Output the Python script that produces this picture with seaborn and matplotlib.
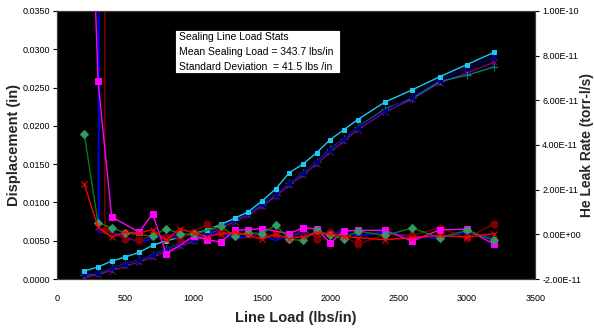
import matplotlib
matplotlib.use("Agg")
import matplotlib.pyplot as plt
import seaborn as sns
from matplotlib import font_manager
from matplotlib.patches import Rectangle
from matplotlib.ticker import FuncFormatter, MultipleLocator

# line load grid (lbs/in) shared by the displacement curves
load = [200, 300, 400, 500, 600, 700, 800, 900, 1000, 1100, 1200, 1300, 1400,
        1500, 1600, 1700, 1800, 1900, 2000, 2100, 2200, 2400, 2600, 2800, 3000, 3200]

# displacement (in)
disp_cyan = [0.00104, 0.00157, 0.00235, 0.00287, 0.00348, 0.00440, 0.00500, 0.00545,
             0.00595, 0.00640, 0.00714, 0.00793, 0.00879, 0.01019, 0.01175, 0.01388,
             0.01500, 0.01650, 0.01820, 0.01950, 0.02080, 0.02310, 0.02470, 0.02640,
             0.02800, 0.02960]
disp_navy = [0.00060, 0.00080, 0.00140, 0.00195, 0.00250, 0.00310, 0.00385, 0.00455,
             0.00510, 0.00600, 0.00685, 0.00770, 0.00860, 0.00975, 0.01100, 0.01250,
             0.01390, 0.01530, 0.01690, 0.01830, 0.01975, 0.02200, 0.02380, 0.02600,
             0.02750, 0.02900]
disp_teal = [0.00052, 0.00074, 0.00140, 0.00200, 0.00250, 0.00310, 0.00390, 0.00460,
             0.00510, 0.00600, 0.00690, 0.00770, 0.00860, 0.00970, 0.01100, 0.01250,
             0.01390, 0.01530, 0.01700, 0.01830, 0.01980, 0.02220, 0.02360, 0.02580,
             0.02660, 0.02770]
disp_purple = [0.00017, 0.00060, 0.00110, 0.00165, 0.00225, 0.00285, 0.00360, 0.00430,
               0.00490, 0.00575, 0.00665, 0.00750, 0.00840, 0.00950, 0.01080, 0.01225,
               0.01360, 0.01500, 0.01660, 0.01800, 0.01950, 0.02180, 0.02350, 0.02560,
               0.02690, 0.02830]

# He leak rate (torr-l/s), each test with its own load readings
leak_unit = 1e-11
x_magenta = [200, 300, 400, 600, 700, 800, 1000, 1100, 1200, 1300, 1400, 1500, 1700,
             1800, 1900, 2000, 2100, 2200, 2400, 2600, 2800, 3000, 3200]
leak_magenta = [25.0, 6.87, 0.78, 0.10, 0.92, -0.89, -0.08, -0.24, -0.35, 0.18, 0.21,
                0.26, 0.03, 0.30, 0.24, -0.39, 0.15, 0.18, 0.18, -0.30, 0.20, 0.23, -0.45]
x_blue = [305, 305, 400, 500, 600, 700, 800, 900, 1000, 1100, 1200, 1300, 1400, 1500,
          1600, 1700, 1800, 1900, 2000, 2100, 2200, 2400, 2600, 2800, 3000, 3200]
leak_blue = [30.0, 0.10, 0.10, -0.10, -0.35, -0.20, 0.00, -0.10, 0.05, -0.05, 0.10,
             -0.20, -0.10, 0.00, -0.27, -0.05, 0.05, 0.00, 0.10, 0.05, -0.05, 0.10,
             -0.10, -0.17, 0.10, -0.17]
x_darkred = [350, 350, 500, 600, 700, 800, 900, 1000, 1100, 1200, 1300, 1400, 1500,
             1600, 1700, 1800, 1900, 2000, 2100, 2200, 2400, 2600, 2800, 3000, 3200]
leak_darkred = [30.0, 0.21, -0.19, -0.27, -0.05, -0.10, -0.19, 0.10, 0.45, 0.10, -0.05,
                0.05, -0.05, 0.00, -0.23, 0.23, -0.19, 0.10, -0.05, -0.45, 0.00, -0.05,
                0.30, -0.17, 0.48]
x_green = [200, 300, 400, 500, 700, 800, 900, 1000, 1200, 1300, 1400, 1500, 1600, 1700,
           1800, 1900, 2000, 2100, 2200, 2400, 2600, 2800, 3000, 3200]
leak_green = [4.47, 0.51, 0.30, 0.06, -0.08, 0.26, 0.03, 0.00, 0.36, -0.08, 0.08, 0.03,
              0.41, -0.23, -0.27, 0.18, -0.05, -0.19, 0.15, -0.05, 0.28, -0.15, 0.18, -0.27]
x_red = load
leak_red = [2.24, 0.33, -0.12, 0.10, 0.06, 0.21, -0.27, 0.26, 0.05, -0.10, 0.03, 0.10,
            -0.05, -0.21, 0.00, -0.19, -0.10, 0.05, 0.03, -0.10, -0.15, -0.24, -0.15,
            -0.05, -0.12, 0.03]

stats_lines = ["Sealing Line Load Stats",
               "Mean Sealing Load = 343.7 lbs/in",
               "Standard Deviation  = 41.5 lbs /in"]

sns.set_style("white")
installed = {f.name for f in font_manager.fontManager.ttflist}
narrow = [f for f in ["Liberation Sans Narrow", "Liberation Sans", "DejaVu Sans"] if f in installed]
plt.rcParams["font.family"] = narrow

fig = plt.figure(figsize=(5.94, 3.31), dpi=100)
ax = fig.add_axes([0.096, 0.157, 0.805, 0.81])
ax.set_facecolor("black")
ax2 = ax.twinx()


def draw(axis, xs, ys, color, marker, ms, mfc=None, lw=1.0):
    sns.lineplot(x=xs, y=ys, ax=axis, color=color, marker=marker, markersize=ms,
                 markerfacecolor=mfc or color, markeredgecolor=mfc or color,
                 linewidth=lw, sort=False, estimator=None, legend=False)


# displacement curves
draw(ax, load, disp_purple, "#800080", "x", 5)
draw(ax, load, disp_teal, "#008080", "+", 6)
draw(ax, load, disp_navy, "#000080", "o", 3.5)
draw(ax, load, disp_cyan, "#1EC8F0", "s", 3)

# leak rate curves
draw(ax2, x_blue, [v * leak_unit for v in leak_blue], "#0000FF", None, 0, lw=1.3)
draw(ax2, x_darkred, [v * leak_unit for v in leak_darkred], "#800000", "o", 5)
draw(ax2, x_magenta, [v * leak_unit for v in leak_magenta], "#FF00FF", "s", 5)
draw(ax2, x_green, [v * leak_unit for v in leak_green], "#008000", "D", 4.5, mfc="#339966")
draw(ax2, x_red, [v * leak_unit for v in leak_red], "#FF0000", "x", 5)

ax.set_xlim(0, 3500)
ax.set_ylim(0, 0.035)
ax2.set_ylim(-2e-11, 1e-10)
ax.xaxis.set_major_locator(MultipleLocator(500))
ax.yaxis.set_major_locator(MultipleLocator(0.005))
ax2.yaxis.set_major_locator(MultipleLocator(2e-11))
ax.yaxis.set_major_formatter(FuncFormatter(lambda v, p: f"{v:.4f}"))
ax2.yaxis.set_major_formatter(FuncFormatter(lambda v, p: f"{v:.2E}"))

for a in (ax, ax2):
    a.tick_params(direction="out", length=3, width=0.8, labelsize=6.5, colors="black", pad=2)
    for s in a.spines.values():
        s.set_color("#404040")
        s.set_linewidth(0.8)
    a.grid(False)
ax.tick_params(axis="x", pad=8)

ax.set_xlabel("Line Load (lbs/in)", fontsize=10.5, fontweight="bold")
ax.set_ylabel("Displacement (in)", fontsize=10.5, fontweight="bold")
ax2.set_ylabel("He Leak Rate (torr-l/s)", fontsize=10, fontweight="bold", rotation=90)
ax.xaxis.set_label_coords(0.5, -0.12)
ax.yaxis.set_label_coords(-0.075, 0.5)
ax2.yaxis.set_label_coords(1.093, 0.5)

ax2.add_patch(Rectangle((0.247, 0.769), 0.345, 0.16, transform=ax.transAxes,
                        facecolor="white", edgecolor="black", linewidth=0.6, zorder=4))
ax2.text(0.255, 0.92, "\n".join(stats_lines), transform=ax.transAxes, va="top",
         ha="left", fontsize=7.5, linespacing=1.6, color="black", zorder=6)

fig.savefig("out.png", dpi=100, facecolor="white")
